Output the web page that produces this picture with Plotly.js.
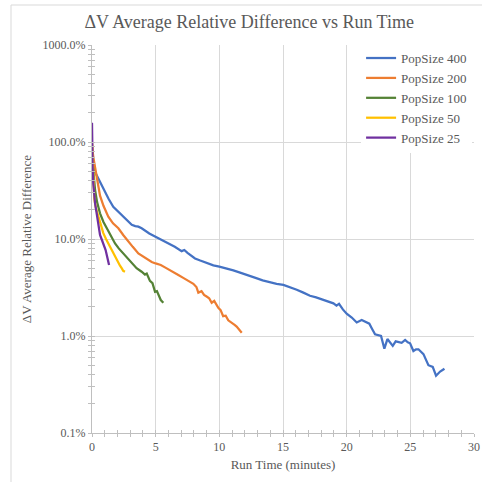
<!DOCTYPE html>
<html>
<head>
<meta charset="utf-8">
<script src="https://cdn.plot.ly/plotly-3.0.1.min.js"></script>
<style>html,body{margin:0;padding:0;background:#fff;}#chart{width:482px;height:482px;}</style>
</head>
<body>
<div id="chart"></div>
<script>
// Series names
const seriesNames = ["PopSize 400", "PopSize 200", "PopSize 100", "PopSize 50", "PopSize 25"];
const seriesColors = ["#4472C4", "#ED7D31", "#548235", "#FFC000", "#7030A0"];

// Run time (minutes) and ΔV average relative difference (%)
const t400 = [0,0.1,0.24,0.45,0.63,0.85,1.02,1.3,1.67,2.0,2.33,2.7,3.12,3.4,3.64,3.9,4.16,4.5,4.95,5.4,6.0,6.5,7.04,7.25,7.5,8.09,8.5,9.0,9.53,10.0,10.58,11.1,11.63,12.0,12.41,12.9,13.4,13.98,14.5,15.03,15.5,16.08,16.6,17.12,17.6,18.17,18.6,18.96,19.2,19.4,19.7,20.0,20.4,20.79,21.18,21.5,21.78,22.0,22.23,22.7,22.96,23.2,23.45,23.62,23.85,24.1,24.32,24.59,24.8,24.98,25.24,25.45,25.64,26.03,26.25,26.42,26.76,27.02,27.34,27.68];
const v400 = [65,55,49,43,39,34,31,26,21.5,19.5,17.7,15.8,14.0,13.6,13.4,12.9,12.2,11.4,10.6,9.9,9.0,8.3,7.5,7.7,7.2,6.3,6.0,5.7,5.35,5.2,5.0,4.75,4.5,4.35,4.2,3.95,3.75,3.58,3.45,3.36,3.2,3.0,2.8,2.6,2.5,2.35,2.25,2.17,2.06,2.15,1.88,1.70,1.55,1.38,1.46,1.38,1.34,1.18,1.04,1.0,0.74,0.93,0.84,0.79,0.88,0.87,0.85,0.91,0.86,0.84,0.70,0.73,0.73,0.65,0.57,0.50,0.48,0.39,0.43,0.46];

const t200 = [0,0.1,0.24,0.45,0.63,0.9,1.28,1.65,2.07,2.45,2.85,3.2,3.64,4.0,4.3,4.69,5.0,5.4,5.73,6.1,6.4,6.78,7.2,7.6,7.96,8.2,8.35,8.6,8.8,9.0,9.2,9.4,9.6,9.92,10.1,10.3,10.5,10.7,10.97,11.2,11.36,11.55,11.76];
const v200 = [95,70,55,38,28,22,17,14.5,12.9,11,9.4,8.3,7.1,6.6,6.3,5.8,5.6,5.4,5.1,4.8,4.6,4.25,3.95,3.7,3.45,3.2,2.8,2.9,2.65,2.55,2.45,2.2,2.3,1.95,1.85,1.6,1.62,1.45,1.35,1.3,1.25,1.18,1.08];

const t100 = [0,0.1,0.24,0.4,0.63,0.9,1.15,1.5,1.81,2.1,2.46,2.8,3.12,3.5,3.9,4.16,4.3,4.55,4.75,4.95,5.1,5.25,5.4,5.6];
const v100 = [72,50,32,24,18.4,15,12.9,10.5,9.0,8.0,7.1,6.3,5.6,5.0,4.6,4.3,4.4,3.7,3.5,2.85,2.9,2.6,2.35,2.2];

const t50 = [0,0.08,0.18,0.3,0.5,0.7,0.89,1.1,1.28,1.5,1.67,1.9,2.07,2.2,2.33,2.45,2.59];
const v50 = [100,50,26,21,17,14,11.5,10,9.0,7.8,7.1,6.3,5.8,5.3,5.0,4.7,4.6];

const t25 = [0,0,0.05,0.1,0.18,0.24,0.35,0.45,0.55,0.63,0.75,0.89,0.95,1.07,1.2,1.34];
const v25 = [158,83,55,37.5,28,23.3,19,15.7,13,11,10,9.0,8.2,7.7,6.5,5.4];

// Axis ticks
const yTickVals = [0.001, 0.01, 0.1, 1, 10];
const yTickText = ["0.1%", "1.0%", "10.0%", "100.0%", "1000.0%"];
const xTickVals = [0, 5, 10, 15, 20, 25, 30];

const xs = [t400, t200, t100, t50, t25];
const ys = [v400, v200, v100, v50, v25];

const font = "Times New Roman, Liberation Serif, DejaVu Serif, serif";
const txt = "#595959";

const traces = seriesNames.map((n, i) => ({
  type: "scatter", mode: "lines", name: n,
  x: xs[i], y: ys[i].map(v => v / 100),
  line: {color: seriesColors[i], width: 2.25},
  hoverinfo: "skip"
}));
// overlay trace to carry the crossing (inside) tick marks
traces.push({type: "scatter", mode: "lines", x: [0, 30], y: [0.001, 10], xaxis: "x2", yaxis: "y2",
  line: {color: "rgba(0,0,0,0)", width: 0}, showlegend: false, hoverinfo: "skip"});

const layout = {
  width: 482, height: 482,
  margin: {l: 92, r: 8, t: 45, b: 49},
  paper_bgcolor: "#ffffff", plot_bgcolor: "#ffffff",
  font: {family: font, color: txt, size: 12},
  title: {text: "ΔV Average Relative Difference vs Run Time", font: {family: font, size: 18, color: txt},
    x: 0.517, xref: "container", xanchor: "center", y: 0.955, yref: "container", yanchor: "middle"},
  xaxis: {
    range: [0, 30], tickvals: xTickVals, ticktext: xTickVals.map(String),
    showgrid: true, gridcolor: "#d9d9d9", gridwidth: 1,
    showline: true, linecolor: "#bfbfbf", linewidth: 1,
    ticks: "outside", ticklen: 3, tickcolor: "#bfbfbf",
    minor: {dtick: 1, ticks: "outside", ticklen: 3, tickcolor: "#bfbfbf", showgrid: false},
    zeroline: false, tickfont: {family: font, size: 12, color: txt},
    title: {text: "Run Time (minutes)", font: {family: font, size: 13, color: txt}, standoff: 6}
  },
  yaxis: {
    type: "log", range: [-3, 1], tickvals: yTickVals, ticktext: yTickText,
    showgrid: true, gridcolor: "#d9d9d9", gridwidth: 1,
    showline: true, linecolor: "#bfbfbf", linewidth: 1,
    ticks: "outside", ticklen: 3, tickcolor: "#bfbfbf",
    minor: {dtick: "D1", ticks: "outside", ticklen: 3, tickcolor: "#bfbfbf", showgrid: false},
    zeroline: false, tickfont: {family: font, size: 12, color: txt},
    title: {text: "ΔV Average Relative Difference", font: {family: font, size: 13, color: txt}, standoff: 8}
  },
  xaxis2: {overlaying: "x", range: [0, 30], side: "bottom", anchor: "y2", showgrid: false, zeroline: false,
    showticklabels: false, ticks: "inside", ticklen: 3, tickcolor: "#bfbfbf", tickvals: xTickVals,
    minor: {dtick: 1, ticks: "inside", ticklen: 3, tickcolor: "#bfbfbf", showgrid: false}},
  yaxis2: {overlaying: "y", type: "log", range: [-3, 1], side: "left", anchor: "x2", showgrid: false, zeroline: false,
    showticklabels: false, ticks: "inside", ticklen: 3, tickcolor: "#bfbfbf", tickvals: yTickVals,
    minor: {dtick: "D1", ticks: "inside", ticklen: 3, tickcolor: "#bfbfbf", showgrid: false}},
  legend: {x: 0.995, y: 1.005, xanchor: "right", yanchor: "top", bgcolor: "#ffffff",
    font: {family: font, size: 13, color: txt}, tracegroupgap: 0, itemwidth: 30},
  shapes: [{type: "rect", xref: "paper", yref: "paper",
    x0: (11 - 92) / 382, x1: (520 - 92) / 382, y0: (433 - 520) / 388, y1: (433 - 5) / 388,
    line: {color: "#d9d9d9", width: 1}, fillcolor: "rgba(0,0,0,0)", layer: "below"}],
  showlegend: true
};

Plotly.newPlot("chart", traces, layout, {staticPlot: true, displayModeBar: false});
</script>
</body>
</html>
